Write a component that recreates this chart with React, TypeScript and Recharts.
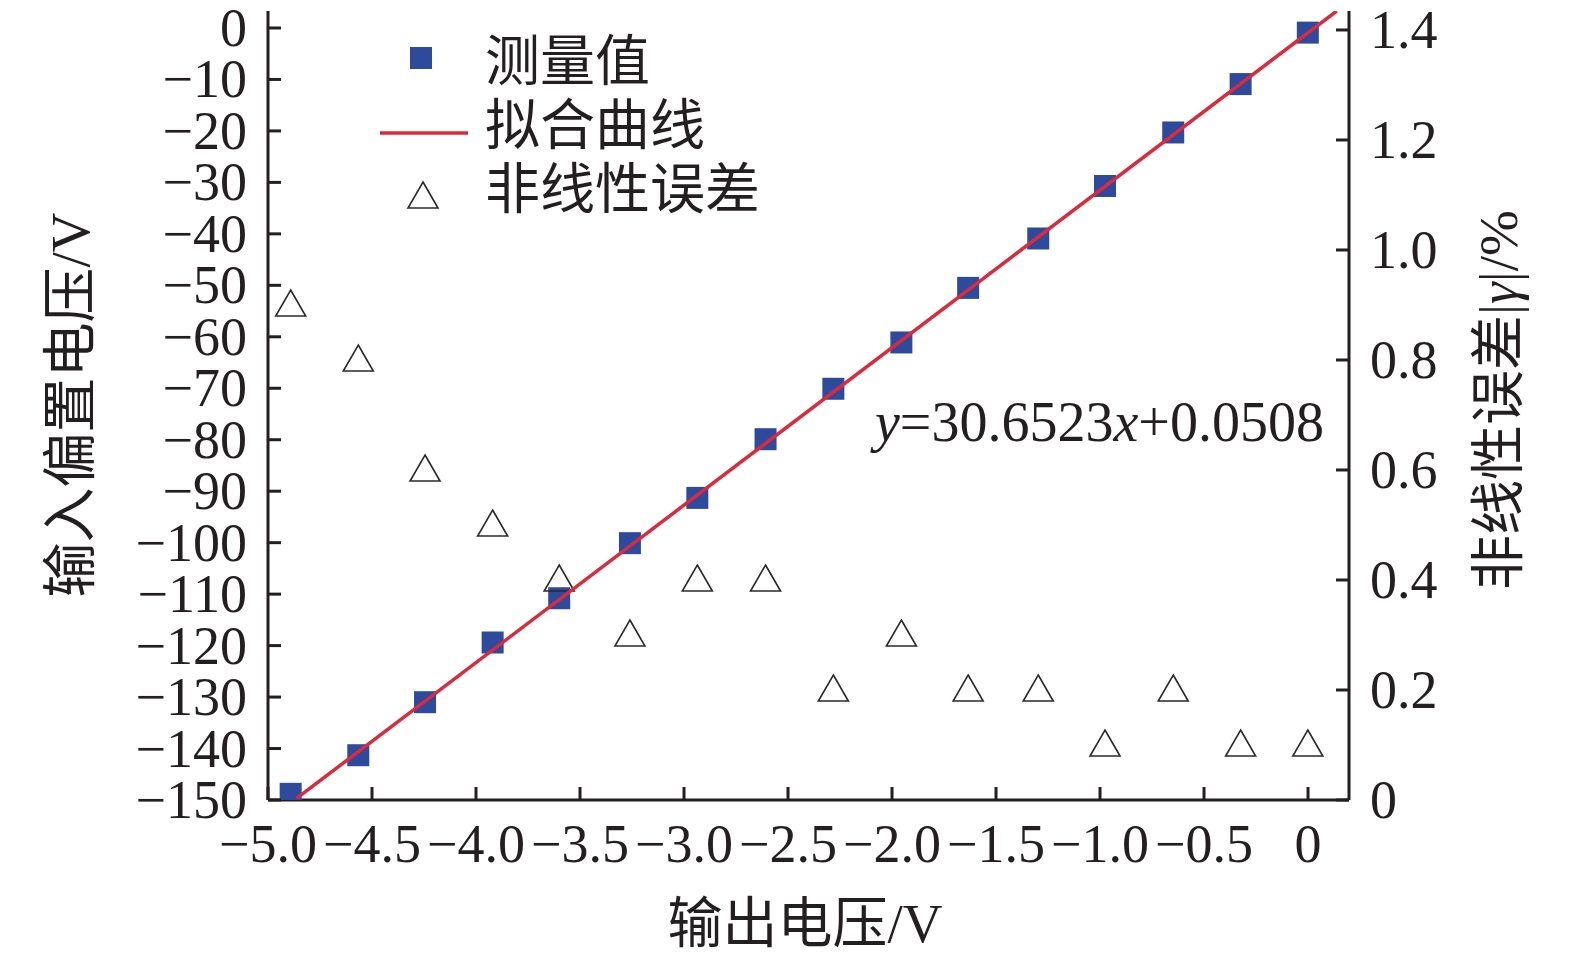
import React from 'react';
import { ScatterChart, Scatter, XAxis, YAxis, Legend } from 'recharts';

// measured output voltage (x) vs input bias voltage (left axis)
const OUTPUT_V = [-4.891, -4.566, -4.245, -3.92, -3.6, -3.26, -2.936, -2.608, -2.282, -1.955, -1.634, -1.297, -0.976, -0.648, -0.324, -0.001];
const INPUT_BIAS_V = [-148.8, -141.3, -131.0, -119.4, -110.8, -100.1, -91.3, -79.9, -70.1, -61.1, -50.5, -40.9, -30.7, -20.3, -10.9, -0.9];
// nonlinearity error |γ| in % (right axis)
const NONLINEARITY = [0.9, 0.8, 0.6, 0.5, 0.4, 0.3, 0.4, 0.4, 0.2, 0.3, 0.2, 0.2, 0.1, 0.2, 0.1, 0.1];
// fitted line end points
const FIT_X = [-4.863, 0.138];
const FIT_Y = [-149.7, 3.3];

const X_TICKS = [-5, -4.5, -4, -3.5, -3, -2.5, -2, -1.5, -1, -0.5, 0];
const LEFT_TICKS = [0, -10, -20, -30, -40, -50, -60, -70, -80, -90, -100, -110, -120, -130, -140, -150];
const RIGHT_TICKS = [0, 0.2, 0.4, 0.6, 0.8, 1.0, 1.2, 1.4];

const SERIES_NAMES = ['测量值', '拟合曲线', '非线性误差'];

const measured = OUTPUT_V.map((x, i) => ({ x, y: INPUT_BIAS_V[i] }));
const errors = OUTPUT_V.map((x, i) => ({ x, y: NONLINEARITY[i] }));
const fit = FIT_X.map((x, i) => ({ x, y: FIT_Y[i] }));

const FONT = '"Liberation Serif", "Noto Sans CJK SC", serif';
const INK = '#231f20';
const BLUE = '#2d4a9d';
const RED = '#dc2a3c';
const TICK_FS = 54;

const minus = (s: string) => '\u2212' + s;
const fmtX = (v: number) => (v === 0 ? '0' : minus(Math.abs(v).toFixed(1)));
const fmtLeft = (v: number) => (v === 0 ? '0' : minus(String(Math.abs(v))));
const fmtRight = (v: number) => (v === 0 ? '0' : v.toFixed(1));

const XTick = (props: any) => {
  const { x, y, payload } = props;
  return (
    <g>
      <line x1={x} x2={x} y1={y} y2={y - 13} stroke={INK} strokeWidth={3} />
      <text x={x} y={y + 62} textAnchor="middle" fontFamily={FONT} fontSize={TICK_FS} fill={INK}>
        {fmtX(payload.value)}
      </text>
    </g>
  );
};

const LeftTick = (props: any) => {
  const { x, y, payload } = props;
  return (
    <g>
      <line x1={x} x2={x + 13} y1={y} y2={y} stroke={INK} strokeWidth={3} />
      <text x={x - 21} y={y + 18} textAnchor="end" fontFamily={FONT} fontSize={TICK_FS} fill={INK}>
        {fmtLeft(payload.value)}
      </text>
    </g>
  );
};

const RightTick = (props: any) => {
  const { x, y, payload } = props;
  return (
    <g>
      <line x1={x} x2={x - 13} y1={y} y2={y} stroke={INK} strokeWidth={3} />
      <text x={x + 21} y={y + 18} textAnchor="start" fontFamily={FONT} fontSize={TICK_FS} fill={INK}>
        {fmtRight(payload.value)}
      </text>
    </g>
  );
};

const Square = (p: any) => <rect x={p.cx - 11} y={p.cy - 11} width={22} height={22} fill={BLUE} />;

const triPoints = (cx: number, cy: number) => `${cx},${cy - 15} ${cx + 15},${cy + 11} ${cx - 15},${cy + 11}`;
const Triangle = (p: any) => (
  <polygon points={triPoints(p.cx, p.cy)} fill="none" stroke="#2a2a2a" strokeWidth={1.6} />
);
const Nothing = () => <g />;

const renderLegend = () => (
  <svg width={400} height={200} style={{ display: 'block' }}>
    <rect x={40} y={22} width={22} height={22} fill={BLUE} />
    <line x1={10} x2={98} y1={108} y2={108} stroke={RED} strokeWidth={3.5} />
    <polygon points={triPoints(53, 172)} fill="none" stroke="#2a2a2a" strokeWidth={1.6} />
    {SERIES_NAMES.map((name, i) => (
      <text key={name} x={115} y={36 + i * 64} dominantBaseline="central" fontFamily={FONT} fontSize={55} fill={INK}>
        {name}
      </text>
    ))}
  </svg>
);

const W = 1559;
const H = 948;

export default function App() {
  return (
    <div style={{ position: 'relative', width: W, height: H }}>
      <ScatterChart width={W} height={H} margin={{ top: 3, right: 0, bottom: 0, left: 0 }}>
        <XAxis
          type="number"
          dataKey="x"
          domain={[-5, 0.197]}
          ticks={X_TICKS}
          interval={0}
          height={156}
          tickSize={0}
          tickMargin={0}
          tickLine={false}
          tick={<XTick />}
          axisLine={{ stroke: INK, strokeWidth: 3 }}
          allowDataOverflow
        />
        <YAxis
          yAxisId="left"
          type="number"
          dataKey="y"
          domain={[-150, 3.3]}
          ticks={LEFT_TICKS}
          interval={0}
          width={260}
          tickSize={0}
          tickMargin={0}
          tickLine={false}
          tick={<LeftTick />}
          axisLine={{ stroke: INK, strokeWidth: 3 }}
          allowDataOverflow
        />
        <YAxis
          yAxisId="right"
          orientation="right"
          type="number"
          dataKey="y"
          domain={[0, 1.4345]}
          ticks={RIGHT_TICKS}
          interval={0}
          width={218}
          tickSize={0}
          tickMargin={0}
          tickLine={false}
          tick={<RightTick />}
          axisLine={{ stroke: INK, strokeWidth: 3 }}
          allowDataOverflow
        />
        <Legend
          layout="vertical"
          align="center"
          verticalAlign="middle"
          wrapperStyle={{ left: 362, top: 17, width: 400, height: 200 }}
          content={renderLegend}
        />
        <Scatter name={SERIES_NAMES[0]} yAxisId="left" data={measured} shape={Square} isAnimationActive={false} />
        <Scatter name={SERIES_NAMES[2]} yAxisId="right" data={errors} shape={Triangle} isAnimationActive={false} />
        <Scatter
          name={SERIES_NAMES[1]}
          yAxisId="left"
          data={fit}
          line={{ stroke: RED, strokeWidth: 3.5 }}
          shape={Nothing}
          isAnimationActive={false}
        />
      </ScatterChart>
      <svg
        width={W}
        height={H}
        style={{ position: 'absolute', left: 0, top: 0, pointerEvents: 'none' }}
        fontFamily={FONT}
        fill={INK}
      >
        <text x={867} y={433} fontSize={56}>
          <tspan fontStyle="italic">y</tspan>=30.6523<tspan fontStyle="italic">x</tspan>+0.0508
        </text>
        <text x={62} y={397} fontSize={55} textAnchor="middle" dominantBaseline="central" transform="rotate(-90 62 397)">
          输入偏置电压/V
        </text>
        <text x={1490} y={392} fontSize={55} textAnchor="middle" dominantBaseline="central" transform="rotate(-90 1490 392)">
          非线性误差|<tspan fontStyle="italic">γ</tspan>|/%
        </text>
        <text x={797} y={915} fontSize={55} textAnchor="middle" dominantBaseline="central">
          输出电压/V
        </text>
      </svg>
    </div>
  );
}
